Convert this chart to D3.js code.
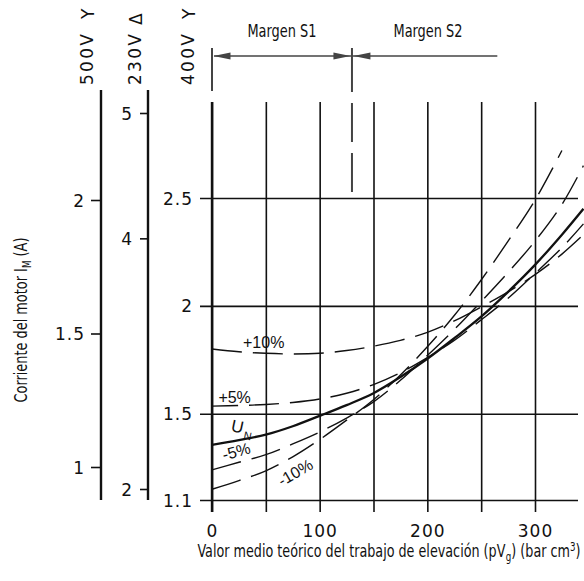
<!DOCTYPE html>
<html>
<head>
<meta charset="utf-8">
<script src="https://cdn.jsdelivr.net/npm/d3@7"></script>
<style>
  html, body { margin: 0; padding: 0; background: #fff; }
  svg { display: block; }
  .num { font-family: "DejaVu Sans", sans-serif; font-size: 17px; fill: #111; }
  .cond { font-family: "Liberation Sans Narrow", "DejaVu Sans Condensed", "Liberation Sans", sans-serif; fill: #111; white-space: pre; }
</style>
</head>
<body>
<script>
// Motor current vs. mean theoretical lifting work, for nominal voltage and ±5 %, ±10 %
const loadValues = [0, 25, 50, 75, 100, 125, 150, 175, 200, 225, 250, 275, 300, 325, 345];
const currentUN     = [1.356, 1.378, 1.403, 1.442, 1.490, 1.540, 1.595, 1.670, 1.755, 1.850, 1.950, 2.065, 2.190, 2.330, 2.450];
const currentPlus10 = [1.800, 1.787, 1.780, 1.777, 1.780, 1.793, 1.813, 1.840, 1.877, 1.930, 1.995, 2.065, 2.145, 2.240, 2.330];
const currentPlus5  = [1.535, 1.538, 1.543, 1.552, 1.568, 1.595, 1.635, 1.690, 1.760, 1.840, 1.935, 2.035, 2.150, 2.270, 2.380];
const currentMinus5 = [1.240, 1.275, 1.310, 1.360, 1.415, 1.480, 1.555, 1.655, 1.770, 1.890, 2.020, 2.155, 2.300, 2.470, 2.650];
const currentMinus10 = [1.150, 1.190, 1.235, 1.300, 1.380, 1.470, 1.565, 1.680, 1.810, 1.955, 2.120, 2.300, 2.490, 2.720, null];

// Axis ticks for the three supply voltages (motor current in A)
const ticks400 = [1.1, 1.5, 2, 2.5];
const ticks230 = [2, 4, 5];
const ticks500 = [1, 1.5, 2];
const gridLoad = [50, 100, 150, 200, 250, 300];
const loadLabels = [0, 100, 200, 300];
const marginS1End = 130;
const marginS2End = 265;

const W = 584, H = 581;
const svg = d3.select("body").append("svg").attr("width", W).attr("height", H);

const x = d3.scaleLinear().domain([0, 300]).range([212, 535]);
const y400 = d3.scaleLinear().domain([1.1, 2.5]).range([500, 198]);
const y500 = d3.scaleLinear().domain([1, 2]).range([467, 200]);
const y230 = d3.scaleLinear().domain([2, 5]).range([489, 113]);

const fmt = d => (Number.isInteger(d) ? String(d) : d3.format(".1f")(d));

// Horizontal grid + 400 V current axis
const gy = svg.append("g").attr("transform", "translate(578,0)")
  .call(d3.axisLeft(y400).tickValues(ticks400).tickSize(378).tickPadding(7).tickFormat(fmt));
gy.select(".domain").remove();
gy.selectAll("line").attr("stroke", "#111").attr("stroke-width", 1.6);
gy.selectAll("text").attr("class", "num").attr("font-size", null).attr("font-family", null)
  .attr("letter-spacing", 1).attr("dy", "0.36em");

// Vertical grid + load axis
const gx = svg.append("g").attr("transform", "translate(0,512)")
  .call(d3.axisBottom(x).tickValues([0].concat(gridLoad)).tickSize(-410).tickPadding(13)
    .tickFormat(d => loadLabels.includes(d) ? String(d) : ""));
gx.select(".domain").remove();
gx.selectAll("line").attr("stroke", "#111").attr("stroke-width", 1.6);
gx.selectAll("text").attr("class", "num").attr("font-size", null).attr("font-family", null)
  .attr("letter-spacing", 1);

// Main 400 V axis line
svg.append("line").attr("x1", x(0)).attr("x2", x(0)).attr("y1", 102).attr("y2", 512)
  .attr("stroke", "#111").attr("stroke-width", 2.4);

// 500 V and 230 V current axes
function sideAxis(scale, ticks, xPos, tickLen, pad) {
  const g = svg.append("g").attr("transform", `translate(${xPos},0)`)
    .call(d3.axisLeft(scale).tickValues(ticks).tickSize(tickLen).tickPadding(pad).tickFormat(fmt));
  g.select(".domain").remove();
  g.selectAll("line").attr("stroke", "#111").attr("stroke-width", 1.6);
  g.selectAll("text").attr("class", "num").attr("font-size", null).attr("font-family", null)
    .attr("letter-spacing", 1).attr("dy", "0.36em");
  svg.append("line").attr("x1", xPos).attr("x2", xPos).attr("y1", 90).attr("y2", 500)
    .attr("stroke", "#111").attr("stroke-width", 2.4);
}
sideAxis(y500, ticks500, 101, 10, 6);
sideAxis(y230, ticks230, 148, 8, 7);

// Voltage headers (rotated) with connection symbols
const headers = [
  { label: "500V", sym: "Y", x: 93 },
  { label: "230V", sym: "Δ", x: 141 },
  { label: "400V", sym: "Y", x: 194 }
];
headers.forEach(h => {
  svg.append("text").attr("class", "num").attr("font-size", 18)
    .attr("letter-spacing", 2.3)
    .attr("transform", `translate(${h.x},85) rotate(-90)`)
    .text(h.label);
  svg.append("text").attr("class", "num").attr("font-size", h.sym === "Y" ? 18 : 16)
    .attr("transform", `translate(${h.x + 1},${h.sym === "Y" ? 19 : 25}) rotate(-90)`)
    .text(h.sym);
});

// Curves
const series = [
  { values: currentUN, dash: null, width: 2.3 },
  { values: currentPlus10, dash: "30,11", width: 1.4, offset: 0 },
  { values: currentPlus5, dash: "30,11", width: 1.4, offset: 4 },
  { values: currentMinus5, dash: "30,11", width: 1.4, offset: 0 },
  { values: currentMinus10, dash: "30,11", width: 1.4, offset: 0 }
];
const line = d3.line()
  .defined(d => d[1] != null)
  .x(d => x(d[0])).y(d => y400(d[1]))
  .curve(d3.curveCatmullRom.alpha(0.5));
series.forEach(s => {
  svg.append("path")
    .attr("d", line(loadValues.map((v, i) => [v, s.values[i]])))
    .attr("fill", "none").attr("stroke", "#111").attr("stroke-width", s.width)
    .attr("stroke-dasharray", s.dash).attr("stroke-dashoffset", s.offset || 0)
    .attr("stroke-linecap", "butt");
});

// Curve labels
const lbl = (t, lx, ly, rot) => svg.append("text")
  .attr("font-family", "'Liberation Sans', sans-serif").attr("font-size", 16).attr("fill", "#111")
  .attr("text-anchor", "middle")
  .attr("transform", `translate(${x(lx)},${y400(ly)}) rotate(${rot})`)
  .text(t);
lbl("+10%", 48, 1.806, 0);
lbl("+5%", 21, 1.551, 0);
lbl("-5%", 24, 1.30, -15);
lbl("-10%", 80, 1.205, -30);
const unG = svg.append("g").attr("transform", `translate(${x(17)},${y400(1.42)}) rotate(12)`);
unG.append("text").attr("font-family", "'Liberation Sans', sans-serif").attr("font-size", 17)
  .attr("fill", "#111").text("U");
unG.append("text").attr("font-family", "'Liberation Sans', sans-serif").attr("font-size", 11)
  .attr("fill", "#111").attr("x", 14).attr("y", 5).text("N");

// Operating margins S1 / S2
const mg = svg.append("g").attr("stroke", "#444").attr("fill", "#444");
mg.append("line").attr("x1", x(0)).attr("x2", x(0)).attr("y1", 48).attr("y2", 91).attr("stroke-width", 2);
mg.append("line").attr("x1", x(marginS1End)).attr("x2", x(marginS1End)).attr("y1", 48).attr("y2", 92).attr("stroke-width", 2);
mg.append("line").attr("x1", x(marginS1End)).attr("x2", x(marginS1End)).attr("y1", 103).attr("y2", 192)
  .attr("stroke-width", 2).attr("stroke-dasharray", "39,11");
mg.append("line").attr("x1", x(0) + 2).attr("x2", x(marginS2End)).attr("y1", 56).attr("y2", 56).attr("stroke-width", 1.6);
const arrow = (tip, dir) => mg.append("path")
  .attr("stroke", "none")
  .attr("d", `M${tip},56 L${tip + dir * 17},52.5 L${tip + dir * 17},59.5 Z`);
arrow(x(0) + 1.5, 1);
arrow(x(marginS1End) - 1.5, -1);
arrow(x(marginS1End) + 1.5, 1);
svg.append("text").attr("class", "cond").attr("font-size", 17).attr("text-anchor", "middle")
  .attr("x", (x(0) + x(marginS1End)) / 2).attr("y", 37).attr("textLength", 69).attr("lengthAdjust", "spacingAndGlyphs")
  .text("Margen S1");
svg.append("text").attr("class", "cond").attr("font-size", 17).attr("text-anchor", "middle")
  .attr("x", 428).attr("y", 37).attr("textLength", 69).attr("lengthAdjust", "spacingAndGlyphs")
  .text("Margen S2");

// Rich text laid out piece by piece (sub/superscripts), squeezed to a given width
function richText(parent, pieces, width, size) {
  const g = parent.append("g");
  let cx = 0;
  pieces.forEach(p => {
    const small = p.sub || p.sup;
    const t = g.append("text").attr("class", "cond")
      .attr("font-size", small ? size * 0.68 : size)
      .attr("x", cx).attr("y", p.sub ? 4 : p.sup ? -6 : 0)
      .text(p.t);
    cx += t.node().getComputedTextLength();
  });
  const sx = width / cx;
  g.attr("transform", `scale(${sx},1) translate(${-cx / 2},0)`);
  return g;
}

const yTitle = svg.append("g").attr("transform", "translate(27,320) rotate(-90)");
richText(yTitle, [{ t: "Corriente del motor I" }, { t: "M", sub: true }, { t: "\u00a0(A)" }], 165, 17);

const xTitle = svg.append("g").attr("transform", "translate(389,557)");
richText(xTitle, [
  { t: "Valor medio teórico del trabajo de elevación (pV" }, { t: "g", sub: true },
  { t: ")\u00a0(bar cm" }, { t: "3", sup: true }, { t: ")" }
], 383, 17);
</script>
</body>
</html>
